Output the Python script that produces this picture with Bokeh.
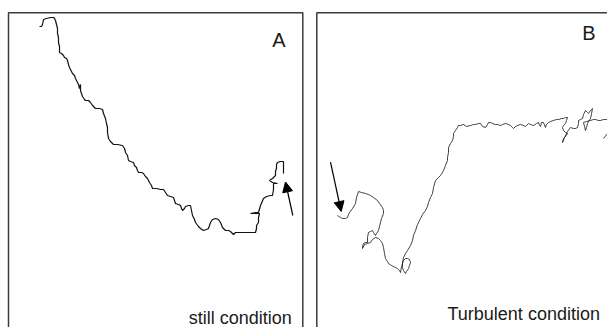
from bokeh.plotting import figure
from bokeh.models import Range1d, Arrow, NormalHead
from bokeh.core.properties import value
from bokeh.embed import file_html
from bokeh.resources import INLINE

# Trajectory A (still condition)
a_x = [39,41,42,43,46,50,53,54,55,56,57,57,58,58,59,59,61,63,64,66,67,68,69,70,72,74,75,76,78,79,80,80,81,82,84,85,88,90,92,94,95,99,102,103,105,106,107,107,108,110,113,117,122,124,125,127,128,130,133,134,136,137,138,141,143,145,147,149,151,152,156,160,163,165,167,170,173,174,175,178,180,181,182,184,185,188,190,191,192,194,195,198,200,203,206,208,209,210,212,215,218,220,222,224,225,228,230,232,233,235,237,242,247,251,255,256,256,258,258,259,254,250,255,258,260,263,266,270,272,273,273,277,272,269,272,275,275,276,276,277,280,283,283,283,283]
a_y = [26,26,24,19,18,17,17,18,20,24,28,33,37,42,46,52,53,55,57,58,60,64,67,69,73,75,78,80,84,88,84,90,93,96,99,100,100,102,105,107,108,108,109,113,118,123,127,132,138,141,144,144,145,148,152,155,160,161,162,165,167,170,172,172,173,176,178,182,185,188,188,189,189,192,195,196,197,200,203,204,205,208,210,208,206,205,205,210,215,219,222,226,228,230,229,228,225,222,219,218,219,222,227,229,230,230,231,233,234,232,232,232,232,232,232,228,225,222,217,213,213,213,212,212,205,198,196,195,195,189,183,183,182,180,178,175,171,168,164,162,161,161,165,168,173]

# Trajectory B (turbulent condition)
b_x = [337,340,342,345,347,348,349,352,355,356,358,361,365,368,370,373,377,379,382,383,383,381,380,379,378,376,375,373,372,370,368,367,367,365,363,362,362,364,367,370,372,375,378,380,382,383,384,385,387,388,391,393,395,397,399,400,401,403,405,407,409,410,409,408,406,405,403,402,402,403,405,407,410,412,413,415,417,420,422,425,427,428,430,432,433,435,438,440,442,443,445,447,447,448,448,450,452,453,453,455,457,458,460,463,466,470,473,475,478,480,482,485,487,488,490,492,495,497,500,502,505,508,510,512,513,515,517,520,523,525,528,530,533,536,538,539,540,541,543,545,546,548,550,553,556,558,561,563,565,567,566,565,563,562,563,565,567,565,563,562,564,565,567,570,573,575,577,578,578,580,582,583,585,587,588,590,592,591,590,588,587,586,585,584,583,586,590,593,595,598,600,603,605,607]
b_y = [215,217,218,218,217,214,212,208,203,197,191,192,193,194,195,197,200,203,207,210,213,218,222,226,230,233,235,232,230,231,232,237,242,242,243,246,248,244,243,242,239,237,238,240,243,247,253,258,261,263,265,266,267,268,270,272,266,260,258,258,259,262,265,268,271,273,270,267,262,257,253,250,245,240,235,230,224,218,214,210,206,202,197,193,187,180,177,175,172,170,165,160,157,152,147,143,140,136,133,130,127,125,125,124,126,125,124,124,123,123,126,127,124,122,122,123,124,124,125,124,123,124,125,127,128,126,125,124,125,126,123,124,125,123,122,125,126,122,122,127,124,122,121,120,119,119,118,118,117,117,120,123,125,127,130,132,133,136,138,142,137,135,131,127,128,128,127,123,120,119,118,114,110,112,113,110,108,113,118,121,123,127,130,126,122,121,120,119,119,120,120,119,119,119]
b_tail_x = [603, 607]
b_tail_y = [138, 133]

panel_labels = ["A", "B"]
condition_labels = ["still condition", "Turbulent condition"]

# arrows marking the start of each trajectory: (x_start, y_start, x_end, y_end)
arrow_a = (292.3, 215, 285, 181.5)
arrow_b = (330, 161.7, 340.7, 211)

p = figure(width=607, height=327, output_backend="svg", toolbar_location=None,
           x_range=Range1d(0, 607), y_range=Range1d(327, 0),
           min_border=0, outline_line_color=None)
p.xaxis.visible = False
p.yaxis.visible = False
p.grid.visible = False
p.background_fill_color = "white"
p.border_fill_color = "white"

# panel frames (bottom edge falls outside the picture)
frame_col = "#3c3c3c"
p.multi_line(xs=[[8, 8, 302.3, 302.3], [316.3, 316.3, 607]],
             ys=[[327, 12.3, 12.3, 327], [327, 12.3, 12.3]],
             line_color=frame_col, line_width=1.5)

p.line(a_x, a_y, line_color="#111111", line_width=1.2)
p.line(b_x, b_y, line_color="#111111", line_width=0.8)
p.line(b_tail_x, b_tail_y, line_color="#111111", line_width=0.8)

for (xs, ys, xe, ye) in (arrow_a, arrow_b):
    p.add_layout(Arrow(end=NormalHead(size=10, fill_color="black", line_color="black", line_width=1),
                       x_start=xs, y_start=ys, x_end=xe, y_end=ye,
                       line_color="black", line_width=1.2))

font = value("Liberation Sans")
p.text(x=[271.7, 581.7], y=[39, 32.7], text=panel_labels, text_font=font,
       text_font_size="20px", text_color="#1a1a1a",
       text_align="left", text_baseline="alphabetic")
p.text(x=[188.3, 447], y=[317, 313], text=condition_labels, text_font=font,
       text_font_size="18px", text_color="#1a1a1a",
       text_align="left", text_baseline="alphabetic")

open("out.html", "w").write(file_html(p, INLINE))
